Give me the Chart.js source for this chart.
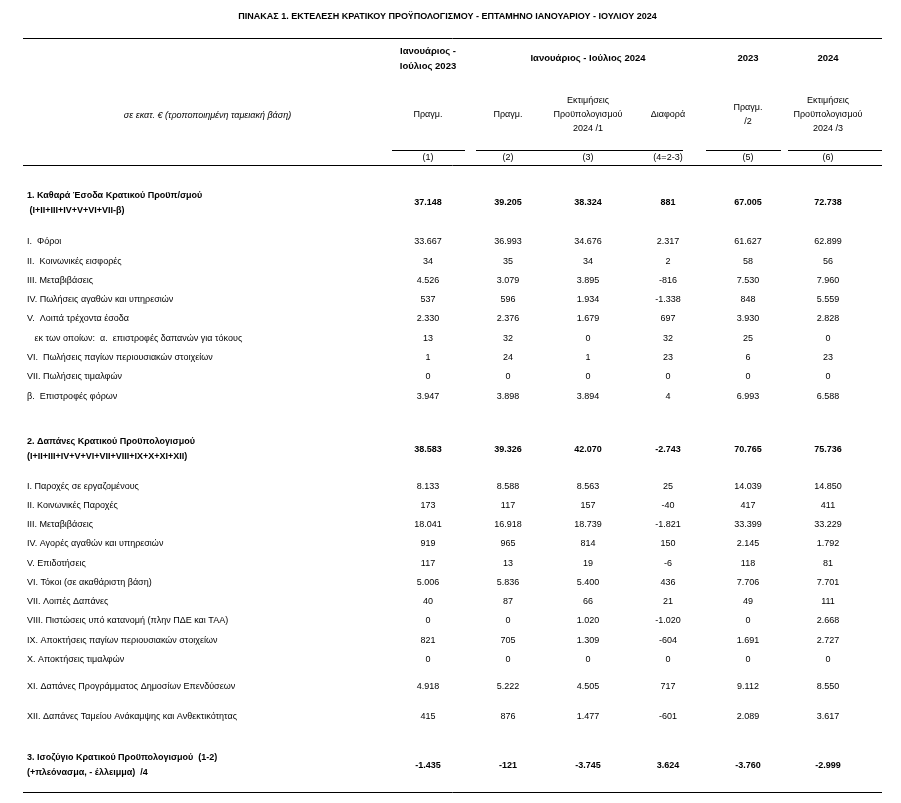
<!DOCTYPE html>
<html lang="el">
<head>
<meta charset="UTF-8">
<title>Πίνακας 1 - Εκτέλεση Κρατικού Προϋπολογισμού</title>
<style>
    * { margin: 0; padding: 0; box-sizing: border-box; }
    body { background: #fff; width: 901px; height: 803px; overflow: hidden; }
    canvas { display: block; }
</style>
</head>
<body>
<canvas id="budgetTable" width="901" height="803"></canvas>
<script src="https://cdn.jsdelivr.net/npm/chart.js@4/dist/chart.umd.min.js"></script>
<script>
// --- data (εκατ. €) ---
const rowLabels = [
    ['1. Καθαρά Έσοδα Κρατικού Προϋπ/σμού', ' (I+II+III+IV+V+VI+VII-β)'],
    'I.  Φόροι',
    'II.  Κοινωνικές εισφορές',
    'III. Μεταβιβάσεις',
    'IV. Πωλήσεις αγαθών και υπηρεσιών',
    'V.  Λοιπά τρέχοντα έσοδα',
    '   εκ των οποίων:  α.  επιστροφές δαπανών για τόκους',
    'VI.  Πωλήσεις παγίων περιουσιακών στοιχείων',
    'VII. Πωλήσεις τιμαλφών',
    'β.  Επιστροφές φόρων',
    ['2. Δαπάνες Κρατικού Προϋπολογισμού', '(I+II+III+IV+V+VI+VII+VIII+IX+X+XI+XII)'],
    'I. Παροχές σε εργαζομένους',
    'II. Κοινωνικές Παροχές',
    'III. Μεταβιβάσεις',
    'IV. Αγορές αγαθών και υπηρεσιών',
    'V. Επιδοτήσεις',
    'VI. Τόκοι (σε ακαθάριστη βάση)',
    'VII. Λοιπές Δαπάνες',
    'VIII. Πιστώσεις υπό κατανομή (πλην ΠΔΕ και ΤΑΑ)',
    'IX. Αποκτήσεις παγίων περιουσιακών στοιχείων',
    'X. Αποκτήσεις τιμαλφών',
    'XI. Δαπάνες Προγράμματος Δημοσίων Επενδύσεων',
    'XII. Δαπάνες Ταμείου Ανάκαμψης και Ανθεκτικότητας',
    ['3. Ισοζύγιο Κρατικού Προϋπολογισμού  (1-2)', '(+πλεόνασμα, - έλλειμμα)  /4']
];
const boldRows = [0, 10, 23];

const colLabels = ['(1)', '(2)', '(3)', '(4=2-3)', '(5)', '(6)'];

const actual2023H = [37148, 33667, 34, 4526, 537, 2330, 13, 1, 0, 3947, 38583, 8133, 173, 18041, 919, 117, 5006, 40, 0, 821, 0, 4918, 415, -1435];
const actual2024H = [39205, 36993, 35, 3079, 596, 2376, 32, 24, 0, 3898, 39326, 8588, 117, 16918, 965, 13, 5836, 87, 0, 705, 0, 5222, 876, -121];
const budget2024H = [38324, 34676, 34, 3895, 1934, 1679, 0, 1, 0, 3894, 42070, 8563, 157, 18739, 814, 19, 5400, 66, 1020, 1309, 0, 4505, 1477, -3745];
const difference = [881, 2317, 2, -816, -1338, 697, 32, 23, 0, 4, -2743, 25, -40, -1821, 150, -6, 436, 21, -1020, -604, 0, 717, -601, 3624];
const actual2023Y = [67005, 61627, 58, 7530, 848, 3930, 25, 6, 0, 6993, 70765, 14039, 417, 33399, 2145, 118, 7706, 49, 0, 1691, 0, 9112, 2089, -3760];
const budget2024Y = [72738, 62899, 56, 7960, 5559, 2828, 0, 23, 0, 6588, 75736, 14850, 411, 33229, 1792, 81, 7701, 111, 2668, 2727, 0, 8550, 3617, -2999];

// --- layout: space before each row, in half-line units ---
const rowGaps = [3.85, 4.05, 2, 2, 2, 2, 2, 2, 2, 2, 5.5, 3.85, 2, 2, 2, 2, 2, 2, 2, 2, 2, 2.75, 3.15, 5.05];
const rowPos = [];
rowGaps.reduce((acc, g) => { acc += g; rowPos.push(acc); return acc; }, 0);

const FONT = '"Liberation Sans", Arial, sans-serif';
const columns = [actual2023H, actual2024H, budget2024H, difference, actual2023Y, budget2024Y];

function fmt(v) {
    const s = Math.abs(v).toString().replace(/\B(?=(\d{3})+(?!\d))/g, '.');
    return (v < 0 ? '-' : '') + s;
}

const tableText = {
    id: 'tableText',
    afterDatasetsDraw(chart) {
        const ctx = chart.ctx;
        ctx.save();
        ctx.fillStyle = '#000';
        ctx.textAlign = 'center';
        ctx.textBaseline = 'middle';
        chart.data.datasets.forEach((ds, di) => {
            chart.getDatasetMeta(di).data.forEach((pt, i) => {
                ctx.font = (boldRows.includes(i) ? 'bold ' : '') + '9px ' + FONT;
                ctx.fillText(fmt(ds.data[i].v), pt.x, pt.y);
            });
        });
        ctx.restore();
    },
    afterDraw(chart) {
        const ctx = chart.ctx;
        const xs = chart.scales.x, ys = chart.scales.y;
        const area = chart.chartArea;
        const cx = i => xs.getPixelForValue(i);
        const hLine = (x0, x1, y) => {
            ctx.beginPath();
            ctx.moveTo(x0, Math.round(y) + 0.5);
            ctx.lineTo(x1, Math.round(y) + 0.5);
            ctx.stroke();
        };
        const lines = (arr, x, y, step) => arr.forEach((t, k) => ctx.fillText(t, x, y + k * step));

        ctx.save();
        ctx.strokeStyle = '#000';
        ctx.lineWidth = 1;
        ctx.fillStyle = '#000';
        ctx.textAlign = 'center';
        ctx.textBaseline = 'middle';

        // full-width rules
        const left = ys.left - 4, right = area.right + 14;
        hLine(left, right, 38);
        hLine(left, right, area.top - 1);
        hLine(left, right, area.bottom);

        // group rules above column numbers
        hLine(cx(0) - 36, cx(0) + 37, 150);
        hLine(cx(1) - 32, cx(3) + 15, 150);
        hLine(cx(4) - 42, cx(4) + 33, 150);
        hLine(cx(5) - 40, right, 150);

        // top header
        ctx.font = 'bold 9.5px ' + FONT;
        lines(['Ιανουάριος -', 'Ιούλιος 2023'], cx(0), 51, 15);
        ctx.fillText('Ιανουάριος - Ιούλιος 2024', cx(2), 58);
        ctx.fillText('2023', cx(4), 58);
        ctx.fillText('2024', cx(5), 58);

        // sub header
        ctx.font = '9px ' + FONT;
        ctx.fillText('Πραγμ.', cx(0), 115);
        ctx.fillText('Πραγμ.', cx(1), 115);
        lines(['Εκτιμήσεις', 'Προϋπολογισμού', '2024 /1'], cx(2), 101, 14);
        ctx.fillText('Διαφορά', cx(3), 115);
        lines(['Πραγμ.', '/2'], cx(4), 108, 14);
        lines(['Εκτιμήσεις', 'Προϋπολογισμού', '2024 /3'], cx(5), 101, 14);

        ctx.font = 'italic 9px ' + FONT;
        ctx.fillText('σε εκατ. € (τροποποιημένη ταμειακή βάση)', (ys.left + ys.right) / 2, 115);
        ctx.restore();
    }
};

new Chart(document.getElementById('budgetTable'), {
    type: 'line',
    data: {
        labels: colLabels,
        datasets: columns.map((col, c) => ({
            data: col.map((v, i) => ({ x: colLabels[c], y: rowPos[i], v: v })),
            showLine: false,
            pointRadius: 0,
            pointHoverRadius: 0
        }))
    },
    options: {
        responsive: false,
        animation: false,
        events: [],
        layout: { padding: { left: 27, right: 33, top: 0, bottom: 11 } },
        plugins: {
            legend: { display: false },
            tooltip: { enabled: false },
            title: {
                display: true,
                text: 'ΠΙΝΑΚΑΣ 1. ΕΚΤΕΛΕΣΗ ΚΡΑΤΙΚΟΥ ΠΡΟΫΠΟΛΟΓΙΣΜΟΥ - ΕΠΤΑΜΗΝΟ ΙΑΝΟΥΑΡΙΟΥ - ΙΟΥΛΙΟΥ 2024',
                color: '#000',
                font: { family: FONT, size: 9, weight: 'bold' },
                padding: { top: 11, bottom: 0 }
            }
        },
        scales: {
            x: {
                type: 'category',
                position: 'top',
                offset: true,
                grid: { display: false, drawTicks: false },
                border: { display: false },
                ticks: { color: '#000', font: { family: FONT, size: 9 }, padding: 3, autoSkip: false, maxRotation: 0 },
                afterFit(scale) { scale.height = 144; }
            },
            y: {
                type: 'linear',
                reverse: true,
                min: 0,
                max: 65,
                grid: { display: false, drawTicks: false },
                border: { display: false },
                afterBuildTicks(scale) { scale.ticks = rowPos.map(v => ({ value: v })); },
                ticks: {
                    autoSkip: false,
                    crossAlign: 'far',
                    color: '#000',
                    font: ctx => ({
                        family: FONT,
                        size: 9,
                        weight: boldRows.includes(ctx.index) ? 'bold' : 'normal',
                        lineHeight: 1.65
                    }),
                    callback: (value, index) => rowLabels[index]
                },
                afterFit(scale) {
                    scale.width = 361;
                    scale.paddingTop = 0;
                    scale.paddingBottom = 0;
                }
            }
        }
    },
    plugins: [tableText]
});
</script>
</body>
</html>
